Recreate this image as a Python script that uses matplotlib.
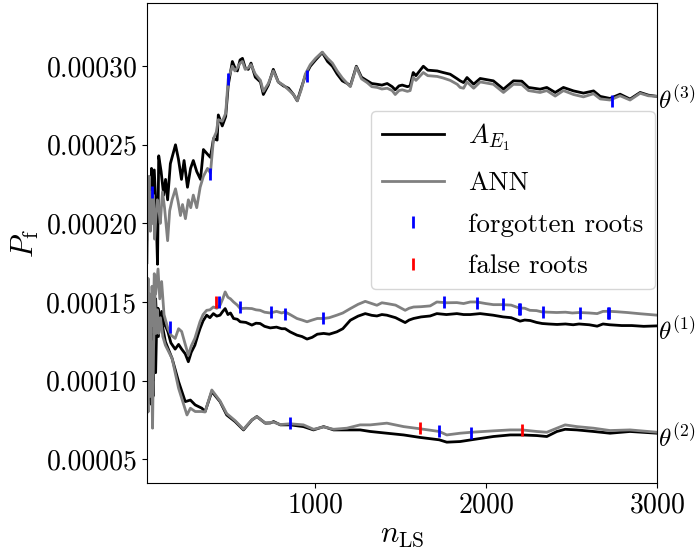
import numpy as np
import matplotlib
matplotlib.use("Agg")
import matplotlib.pyplot as plt
from matplotlib.ticker import FormatStrFormatter
import matplotlib.transforms as mtransforms

plt.rcParams["font.family"] = "serif"
plt.rcParams["font.serif"] = ["cmr10"]
plt.rcParams["mathtext.fontset"] = "cm"
plt.rcParams["axes.formatter.use_mathtext"] = True

# valores em unidades de 1e-5
n_t3_a = [21, 33, 40, 47, 53, 63, 73, 82, 89, 103, 118, 129, 141, 157, 187, 204, 222, 237, 257, 275,
          291, 311, 333, 350, 374, 391, 409, 430, 437, 460, 480, 495, 519, 534, 548, 564, 578, 594, 612, 628,
          653, 683, 700, 729, 758, 787, 817, 847, 876, 898, 921, 945, 974, 1005, 1044, 1075, 1103, 1131, 1161, 1190,
          1208, 1243, 1273, 1307, 1333, 1365, 1392, 1423, 1452, 1470, 1492, 1511, 1541, 1557, 1575, 1591, 1634, 1660, 1715, 1750,
          1791, 1832, 1849, 1869, 1889, 1928, 1966, 2043, 2102, 2160, 2209, 2248, 2316, 2355, 2404, 2452, 2511, 2569, 2628, 2667,
          2724, 2783, 2841, 2900, 2948, 3000]
pf_t3_a = [19.0, 22.5, 20.0, 23.5, 21.5, 23.4, 21.0, 17.4, 24.3, 23.3, 21.8, 22.8, 21.5, 23.8, 25.0, 24.1, 22.8, 24.0, 22.3, 23.5,
           24.0, 23.3, 22.8, 24.7, 24.4, 24.2, 25.4, 25.3, 26.9, 26.2, 26.8, 28.8, 30.3, 29.9, 29.7, 30.4, 30.5, 29.9, 29.8, 30.2,
           29.3, 29.0, 28.2, 28.8, 29.8, 29.0, 28.75, 28.6, 28.2, 27.8, 28.6, 29.4, 30.0, 30.4, 30.87, 30.3, 30.0, 29.5, 29.07, 28.9,
           28.75, 30.0, 29.3, 29.07, 28.9, 28.85, 28.8, 28.9, 28.7, 28.5, 28.75, 28.8, 28.7, 28.75, 29.6, 29.4, 30.0, 29.75, 29.7, 29.6,
           29.49, 29.2, 29.07, 28.96, 29.28, 28.86, 29.22, 29.07, 28.54, 29.07, 29.05, 28.65, 28.54, 28.65, 28.33, 28.65, 28.43, 28.29, 28.43, 28.08,
           27.95, 28.22, 27.91, 28.33, 28.16, 28.08]

n_t3_ann = [21, 27, 33, 40, 47, 53, 58, 65, 73, 81, 89, 98, 111, 123, 141, 153, 167, 187, 202, 216,
            228, 245, 262, 276, 291, 311, 331, 350, 374, 391, 409, 425, 437, 460, 480, 495, 519, 534, 548, 564,
            578, 594, 612, 628, 653, 683, 700, 729, 758, 787, 817, 847, 876, 898, 921, 945, 974, 1005, 1044, 1075,
            1103, 1131, 1161, 1190, 1208, 1243, 1273, 1307, 1333, 1365, 1392, 1423, 1452, 1470, 1492, 1511, 1541, 1557, 1575, 1591,
            1634, 1660, 1715, 1750, 1791, 1832, 1849, 1869, 1889, 1928, 1966, 2043, 2102, 2160, 2209, 2248, 2316, 2355, 2404, 2452,
            2511, 2569, 2628, 2667, 2724, 2783, 2841, 2900, 2948, 3000]
pf_t3_ann = [17.5, 21.0, 23.0, 19.5, 22.0, 20.0, 21.8, 19.0, 20.5, 21.5, 21.0, 20.0, 22.0, 21.0, 18.9, 20.8, 21.5, 22.2, 21.4, 20.5,
             21.2, 20.3, 21.5, 21.0, 21.8, 21.0, 22.3, 23.0, 23.5, 23.2, 25.4, 25.8, 26.6, 26.5, 27.0, 29.2, 30.0, 29.7, 29.9, 30.2,
             30.3, 29.8, 29.9, 30.1, 29.5, 29.1, 28.4, 28.9, 29.7, 29.0, 28.8, 28.5, 28.2, 27.8, 28.5, 29.5, 30.1, 30.5, 30.9, 30.5,
             30.2, 29.7, 29.25, 28.9, 28.7, 29.95, 29.2, 28.95, 28.7, 28.65, 28.55, 28.6, 28.45, 28.2, 28.45, 28.5, 28.4, 28.45, 29.3, 29.1,
             29.6, 29.4, 29.35, 29.25, 29.1, 28.85, 28.65, 28.6, 29.0, 28.6, 29.0, 28.85, 28.33, 28.85, 28.83, 28.45, 28.33, 28.45, 28.1, 28.45,
             28.2, 28.05, 28.25, 27.92, 27.85, 28.12, 27.85, 28.28, 28.12, 28.08]

n_t1_a = [21, 27, 33, 39, 45, 51, 57, 63, 71, 78, 85, 95, 106, 120, 132, 143, 160, 185, 205, 223,
          244, 262, 279, 300, 318, 330, 348, 369, 388, 408, 428, 447, 463, 477, 493, 508, 526, 548, 565, 598,
          633, 657, 681, 707, 740, 777, 807, 827, 856, 896, 926, 955, 985, 1015, 1052, 1085, 1129, 1164, 1208, 1253,
          1295, 1333, 1363, 1392, 1421, 1472, 1528, 1551, 1577, 1621, 1674, 1713, 1769, 1830, 1869, 1908, 1966, 2041, 2100, 2147,
          2199, 2226, 2258, 2295, 2328, 2365, 2415, 2464, 2509, 2543, 2603, 2649, 2683, 2722, 2792, 2851, 2921, 3000]
pf_t1_a = [15.5, 11.0, 8.8, 12.5, 10.8, 14.0, 10.0, 13.0, 15.2, 13.5, 14.6, 13.8, 14.4, 13.6, 13.4, 13.1, 12.4, 12.0, 12.3, 12.0,
           11.7, 11.2, 11.8, 12.25, 12.9, 13.3, 13.8, 14.16, 14.0, 14.26, 14.1, 14.16, 14.4, 14.58, 14.2, 14.3, 13.95, 13.9, 13.74, 13.7,
           13.53, 13.65, 13.63, 13.45, 13.35, 13.4, 13.3, 13.3, 13.1, 12.89, 12.8, 12.64, 12.75, 12.95, 13.0, 12.95, 13.1, 13.3, 13.84, 14.1,
           14.26, 14.15, 14.11, 14.2, 14.16, 14.0, 13.69, 13.85, 13.95, 14.05, 14.11, 14.26, 14.2, 14.26, 14.2, 14.2, 14.26, 14.16, 14.05, 14.0,
           13.78, 13.85, 13.82, 13.7, 13.63, 13.6, 13.57, 13.6, 13.55, 13.6, 13.55, 13.46, 13.6, 13.55, 13.5, 13.5, 13.45, 13.48]

n_t1_ann = [21, 27, 32, 38, 44, 50, 57, 63, 71, 85, 95, 106, 120, 130, 143, 160, 185, 205, 223, 244,
            262, 279, 300, 330, 348, 369, 388, 408, 428, 447, 463, 477, 493, 508, 526, 548, 565, 598, 633, 657,
            681, 707, 740, 777, 807, 827, 856, 896, 926, 955, 985, 1015, 1052, 1085, 1129, 1164, 1208, 1253, 1295, 1333,
            1363, 1392, 1421, 1472, 1528, 1551, 1577, 1621, 1674, 1713, 1769, 1830, 1869, 1908, 1946, 1998, 2043, 2094, 2147, 2193,
            2226, 2256, 2295, 2326, 2365, 2413, 2464, 2504, 2546, 2603, 2649, 2683, 2714, 2762, 2824, 2901, 3000]
pf_t1_ann = [12.5, 16.5, 11.5, 15.5, 12.0, 16.0, 13.5, 16.8, 15.5, 17.1, 15.2, 16.3, 14.2, 13.8, 13.3, 12.9, 12.68, 13.3, 13.12, 12.3,
             11.62, 12.2, 12.68, 13.74, 14.2, 14.47, 14.5, 14.68, 14.6, 14.79, 15.2, 15.64, 15.3, 15.2, 15.0, 14.8, 14.58, 14.6, 14.58, 14.5,
             14.47, 14.35, 14.3, 14.4, 14.3, 14.37, 14.2, 13.95, 13.85, 13.74, 13.85, 13.95, 13.95, 14.0, 14.16, 14.3, 14.58, 14.85, 15.04, 14.9,
             14.79, 14.95, 14.9, 14.8, 14.47, 14.6, 14.68, 14.7, 14.75, 15.0, 14.95, 14.96, 14.9, 15.0, 15.0, 14.9, 14.83, 14.83, 14.8, 14.62,
             14.6, 14.47, 14.45, 14.37, 14.35, 14.33, 14.35, 14.3, 14.33, 14.3, 14.26, 14.4, 14.41, 14.38, 14.33, 14.25, 14.16]

n_t2_a = [21, 27, 32, 38, 44, 50, 56, 63, 71, 79, 87, 99, 128, 167, 205, 244, 274, 302, 341, 360,
          399, 447, 486, 535, 584, 633, 662, 711, 740, 760, 799, 857, 934, 993, 1052, 1110, 1188, 1265, 1324, 1421,
          1519, 1616, 1727, 1771, 1849, 1914, 2043, 2141, 2209, 2297, 2355, 2414, 2462, 2531, 2628, 2724, 2841, 3000]
pf_t2_a = [10.0, 13.5, 9.5, 12.0, 8.5, 11.5, 9.0, 13.0, 10.5, 14.5, 12.8, 14.16, 12.47, 11.41, 9.93, 8.66, 8.76, 8.45, 8.24, 8.03,
           9.3, 8.66, 7.81, 7.39, 6.86, 7.49, 7.71, 7.29, 7.3, 7.39, 7.18, 7.18, 7.07, 6.86, 7.07, 6.86, 6.86, 6.86, 6.76, 6.65,
           6.54, 6.38, 6.23, 6.08, 6.12, 6.23, 6.44, 6.54, 6.54, 6.5, 6.44, 6.76, 6.9, 6.86, 6.76, 6.65, 6.76, 6.65]

n_t2_ann = [21, 27, 33, 39, 45, 53, 59, 66, 73, 81, 89, 99, 113, 128, 167, 205, 254, 274, 302, 341,
            360, 399, 447, 486, 535, 584, 633, 662, 711, 760, 799, 857, 934, 993, 1052, 1110, 1188, 1265, 1324, 1421,
            1519, 1616, 1727, 1771, 1849, 1914, 2043, 2141, 2209, 2297, 2355, 2414, 2462, 2531, 2628, 2724, 2841, 3000]
pf_t2_ann = [11.0, 8.0, 14.0, 9.0, 12.5, 6.97, 12.0, 15.5, 13.0, 14.5, 13.0, 14.0, 12.8, 12.25, 11.41, 9.51, 7.81, 8.24, 8.03, 8.03,
             8.0, 9.4, 8.7, 7.9, 7.45, 6.9, 7.5, 7.7, 7.3, 7.35, 7.2, 7.25, 7.18, 6.9, 7.05, 6.9, 6.97, 7.18, 7.18, 7.29,
             7.07, 6.93, 6.76, 6.54, 6.65, 6.71, 6.8, 6.86, 6.86, 6.76, 6.71, 6.97, 7.18, 7.07, 6.97, 6.82, 6.86, 6.71]

# raizes esquecidas (azul) e falsas (vermelho)
n_forgot = [52, 391, 496, 952, 2733,
            153, 443, 566, 742, 829, 1051, 1752, 1950, 2102, 2190, 2201, 2330, 2546, 2710, 2721,
            858, 1728, 1915]
pf_forgot = [22.0, 23.15, 29.18, 29.37, 27.78,
             13.42, 15.03, 14.71, 14.39, 14.26, 13.95, 15.03, 14.96, 14.84, 14.58, 14.58, 14.39, 14.33, 14.33, 14.33,
             7.29, 6.78, 6.65]
n_false = [426, 1617, 2213]
pf_false = [15.03, 6.97, 6.84]

theta_labels = [r"$\theta^{(3)}$", r"$\theta^{(1)}$", r"$\theta^{(2)}$"]
theta_pos = [27.9, 13.2, 6.4]

escala = 1e-5

fig = plt.figure(figsize=(6.97, 5.6), dpi=100)
ax = fig.add_axes([0.211, 0.138, 0.732, 0.856])

curvas = [(n_t3_a, pf_t3_a, n_t3_ann, pf_t3_ann),
          (n_t1_a, pf_t1_a, n_t1_ann, pf_t1_ann),
          (n_t2_a, pf_t2_a, n_t2_ann, pf_t2_ann)]
for i, (na, pa, nn, pn) in enumerate(curvas):
    ax.plot(na, np.array(pa) * escala, color="black", lw=2,
            label=r"$A_{E_1}$" if i == 0 else None)
    ax.plot(nn, np.array(pn) * escala, color="gray", lw=2,
            label="ANN" if i == 0 else None)

ax.plot(n_forgot, np.array(pf_forgot) * escala, ls="none", marker="|", color="blue",
        markersize=9, markeredgewidth=2, label="forgotten roots")
ax.plot(n_false, np.array(pf_false) * escala, ls="none", marker="|", color="red",
        markersize=9, markeredgewidth=2, label="false roots")

# rotulos theta a direita do eixo
trans = mtransforms.blended_transform_factory(ax.transAxes, ax.transData)
for lab, pos in zip(theta_labels, theta_pos):
    ax.text(1.002, pos * escala, lab, transform=trans, ha="left", va="center", fontsize=18)

ax.set_xlim(21, 3000)
ax.set_ylim(3.5e-5, 3.4e-4)
ax.set_xticks([1000, 2000, 3000])
ax.set_yticks(np.arange(5e-5, 3.01e-4, 5e-5))
ax.yaxis.set_major_formatter(FormatStrFormatter("%.5f"))
ax.tick_params(labelsize=20)

ax.set_xlabel(r"$n_\mathrm{LS}$", fontsize=22, labelpad=2)
ax.set_ylabel(r"$P_\mathrm{f}$", fontsize=22, labelpad=4)

ax.legend(loc="center right", bbox_to_anchor=(1.0, 0.59), fontsize=19.5,
          handlelength=2.3, handletextpad=0.9, labelspacing=0.65,
          borderaxespad=0.1, framealpha=0.8)

fig.savefig("out.png", dpi=100)
